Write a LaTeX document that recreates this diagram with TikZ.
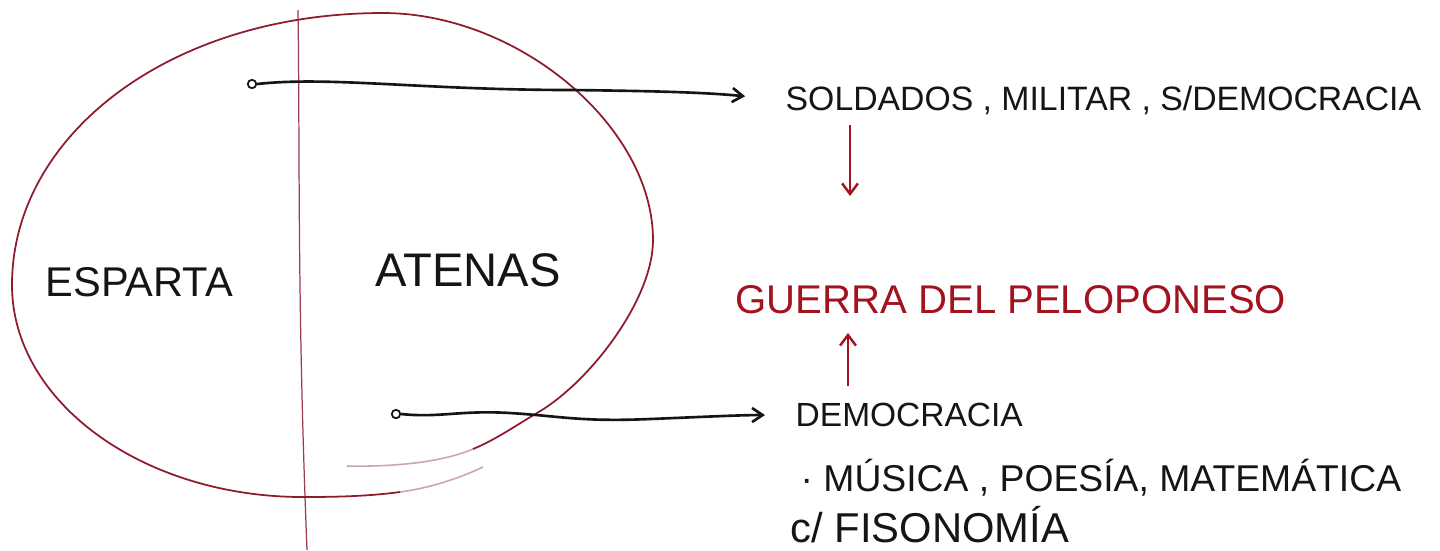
\documentclass[tikz,border=0pt]{standalone}
\usepackage{fontspec}
\setmainfont{Liberation Sans}
\usetikzlibrary{arrows.meta}
\definecolor{wine}{HTML}{8E1B2E}
\definecolor{ink}{HTML}{151515}
\definecolor{redink}{HTML}{A3121F}
\tikzset{
  txt/.style={anchor=west, inner sep=0pt, text=ink},
  redtxt/.style={anchor=west, inner sep=0pt, text=redink},
  dot/.style={circle, draw=ink, line width=0.5pt, minimum size=2.4pt, inner sep=0pt},
  blackarrow/.style={draw=ink, line width=0.75pt, -{Straight Barb[length=3pt,width=4pt]}},
  redarrow/.style={draw=redink, line width=0.7pt, -{Straight Barb[length=3pt,width=4.5pt]}},
  blob/.style={draw=wine, line width=0.5pt},
  faint/.style={draw=wine, line width=0.45pt, opacity=0.4},
}
\begin{document}
\begin{tikzpicture}[x=0.01cm,y=-0.01cm]
\useasboundingbox[fill=white] (0,0) rectangle (1440,550);

% outline (open, overlapping at bottom right)
\draw[blob] (400,492) .. controls (370,496) and (340,497) .. (303,497)
  .. controls (143,497) and (12,402) .. (12,285)
  .. controls (12,135) and (170,13) .. (383,13)
  .. controls (518,13) and (653,126) .. (653,240)
  .. controls (653,300) and (589,383) .. (537,413)
  .. controls (515,426) and (495,440) .. (473,449);
% faint tails
\draw[faint] (483,467) .. controls (460,478) and (430,488) .. (400,492);
\draw[faint] (473,449) .. controls (445,461) and (400,467) .. (347,466);
% vertical dividing line
\draw[draw=wine, line width=0.35pt, opacity=0.85] (298,10) .. controls (300,150) and (297,300) .. (307,550);

% labels inside
\node[txt] (esparta) at (45,282) {\resizebox{1.87cm}{!}{ESPARTA}};
\node[txt] (atenas) at (375,270) {\resizebox{1.85cm}{!}{ATENAS}};

% start dots
\node[dot] (o1) at (252,84) {};
\node[dot] (o2) at (396,414) {};

% texts on the right
\node[txt] (sold) at (785,100) {\resizebox{6.35cm}{!}{SOLDADOS , MILITAR , S/DEMOCRACIA}};
\node[redtxt] (guerra) at (735,300) {\resizebox{5.5cm}{!}{GUERRA DEL PELOPONESO}};
\node[txt] (demo) at (795,415) {\resizebox{2.27cm}{!}{DEMOCRACIA}};
\node[txt] (musica) at (800,478) {\resizebox{6.0cm}{!}{· MÚSICA , POESÍA, MATEMÁTICA}};
\node[txt] (fiso) at (790,525) {\resizebox{2.78cm}{!}{c/ FISONOMÍA}};

% connectors
\draw[blackarrow, shorten >=0.4cm] (o1.east) .. controls (330,76) and (420,90) .. (573,90) .. controls (650,91) and (700,92) .. (sold.west);
\draw[blackarrow, shorten >=0.3cm] (o2.east) .. controls (440,418) and (460,410) .. (510,413) .. controls (560,416) and (580,422) .. (650,419) .. controls (700,417) and (740,415) .. (demo.west);

\coordinate (d1) at (850,125);
\coordinate (d2) at (850,196);
\coordinate (u1) at (848,386);
\coordinate (u2) at (848,333);
\draw[redarrow] (d1) -- (d2);
\draw[redarrow] (u1) -- (u2);
\end{tikzpicture}
\end{document}
